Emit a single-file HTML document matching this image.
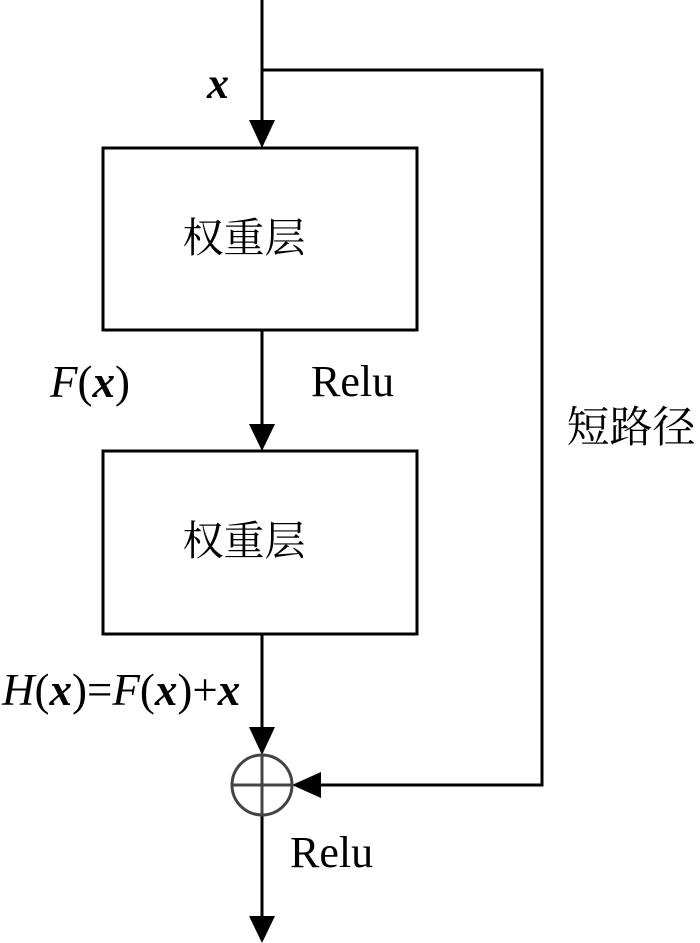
<!DOCTYPE html>
<html><head><meta charset="utf-8"><style>html,body{margin:0;padding:0;background:#fff}</style></head><body>
<svg width="700" height="943" viewBox="0 0 700 943" xmlns="http://www.w3.org/2000/svg" style="display:block">
<g stroke="#000" stroke-width="3" fill="none">
<line x1="262" y1="0" x2="262" y2="125"/>
<polyline points="262,70 542,70 542,785 320,785"/>
<rect x="103" y="148" width="314" height="182"/>
<line x1="262" y1="330" x2="262" y2="428"/>
<rect x="103" y="451" width="314" height="183"/>
<line x1="262" y1="634" x2="262" y2="730"/>
<line x1="262" y1="815" x2="262" y2="920"/>
</g>
<g fill="#000">
<polygon points="249,120 275,120 262,148"/>
<polygon points="249,424 275,424 262,451"/>
<polygon points="249,727 275,727 262,755"/>
<polygon points="292,785 321,772 321,798"/>
<polygon points="249,916 275,916 262,943"/>
</g>
<g stroke="#444" stroke-width="3" fill="none">
<circle cx="262" cy="785" r="30"/>
<line x1="232" y1="785" x2="292" y2="785"/>
<line x1="262" y1="755" x2="262" y2="815"/>
</g>
<g font-family="Liberation Serif, serif" fill="#000">
<text x="207" y="98" font-size="44" font-style="italic" font-weight="bold">x</text>
<text x="50" y="397" font-size="45"><tspan font-style="italic">F</tspan>(<tspan font-style="italic" font-weight="bold">x</tspan>)</text>
<text x="311" y="396" font-size="44">Relu</text>
<text x="2" y="705" font-size="45"><tspan font-style="italic">H</tspan>(<tspan font-style="italic" font-weight="bold">x</tspan>)=<tspan font-style="italic">F</tspan>(<tspan font-style="italic" font-weight="bold">x</tspan>)+<tspan font-style="italic" font-weight="bold">x</tspan></text>
<text x="290" y="867" font-size="44">Relu</text>
</g>
<g font-family="Liberation Serif, 'Noto Serif CJK SC', 'Noto Sans CJK SC', serif" fill="#000" font-size="41">
<text x="244" y="252" text-anchor="middle">权重层</text>
<text x="244" y="555" text-anchor="middle">权重层</text>
<text x="631" y="442" text-anchor="middle" font-size="43">短路径</text>
</g>
</svg>
</body></html>
